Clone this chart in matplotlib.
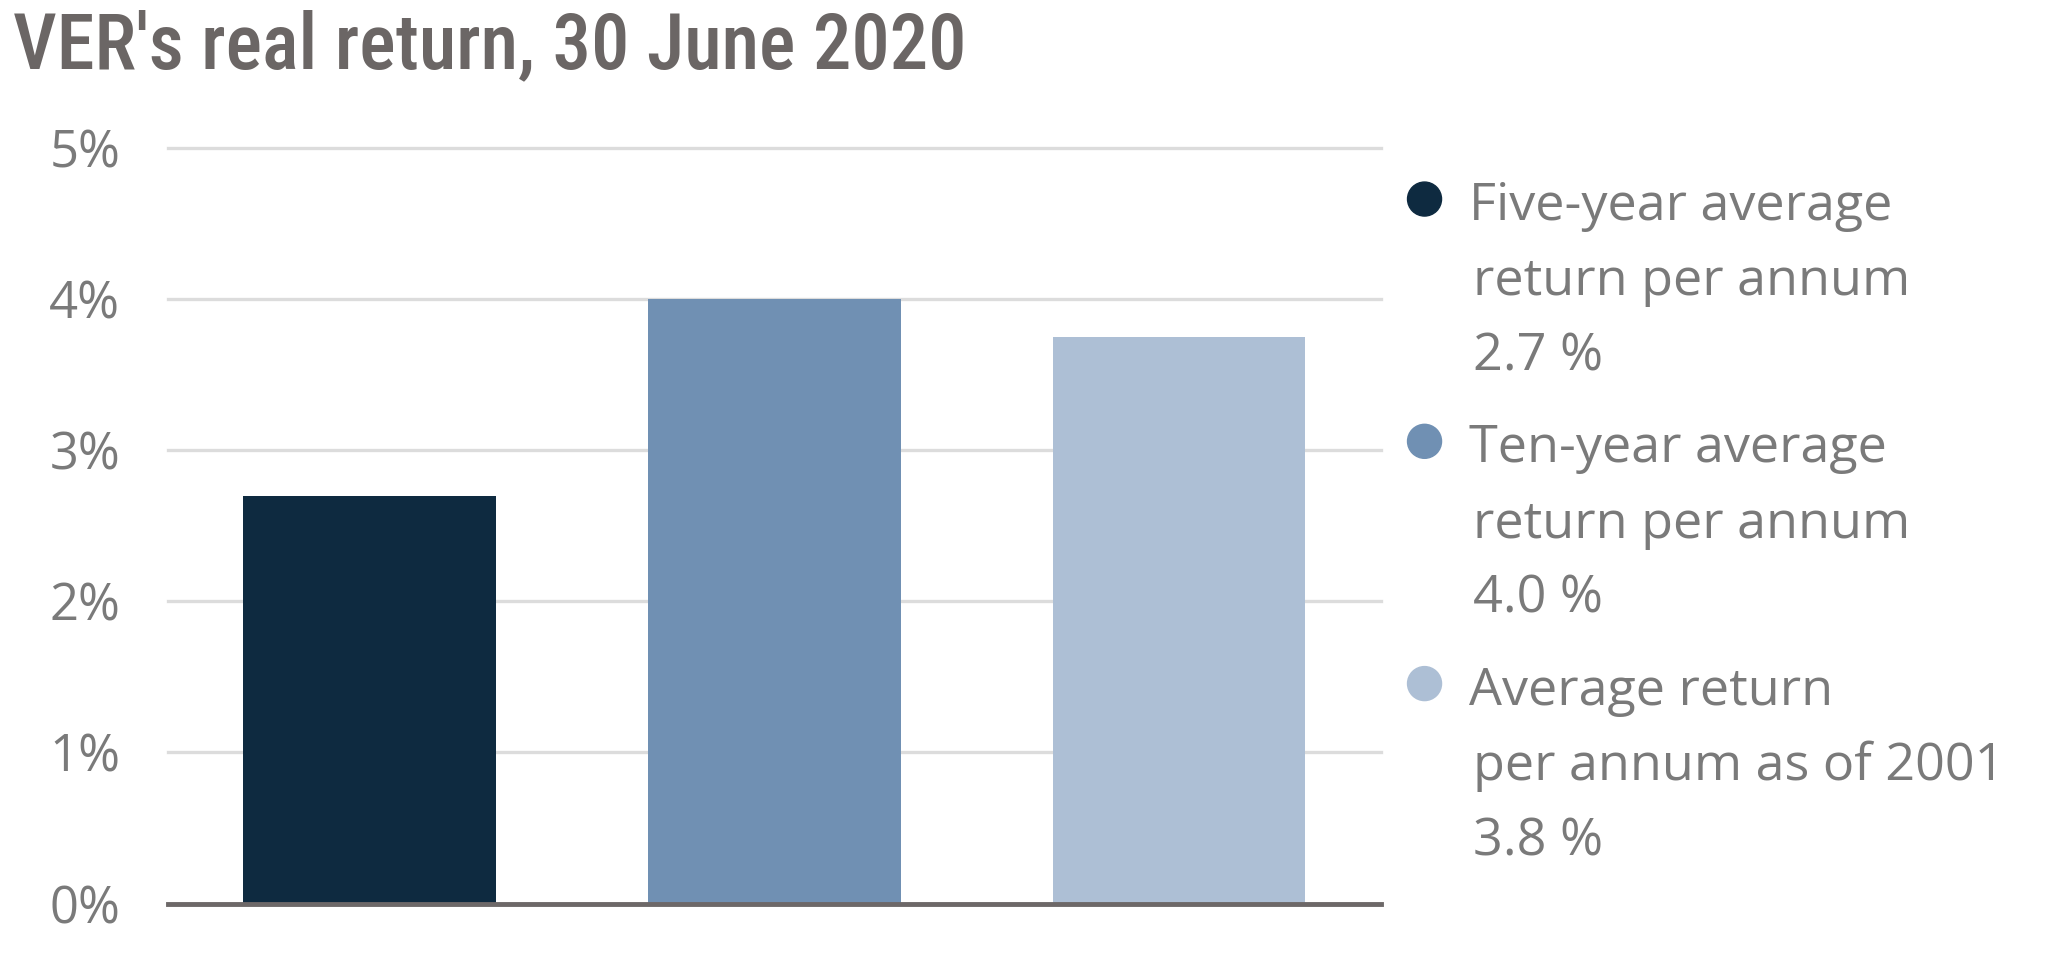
import matplotlib
matplotlib.use("Agg")
import matplotlib.pyplot as plt
import matplotlib.font_manager as fm

# ---- data ----
title = "VER's real return, 30 June 2020"
categories = ["Five-year average\nreturn per annum",
              "Ten-year average\nreturn per annum",
              "Average return\nper annum as of 2001"]
values = [2.7, 4.0, 3.75]
value_labels = ["2.7 %", "4.0 %", "3.8 %"]
yticks = [0, 1, 2, 3, 4, 5]
ytick_labels = ["0%", "1%", "2%", "3%", "4%", "5%"]
colors = ["#0e2a40", "#7090b3", "#adbfd5"]

W, H = 2053, 973
RW, RH = 1568, 743  # reference reading frame
fig = plt.figure(figsize=(W / 100, H / 100), dpi=100)

fam_names = {f.name for f in fm.fontManager.ttflist}

def pick_title_font():
    for fam in ["Roboto Condensed", "Liberation Sans Narrow", "Open Sans Condensed"]:
        if fam in fam_names:
            return fm.FontProperties(family=fam, weight="medium")
    return fm.FontProperties(family="Lato", weight="bold")

body_font = "Open Sans" if "Open Sans" in fam_names else "DejaVu Sans"

left, right = 128 / RW, 1055 / RW
bottom, top = 1 - 690 / RH, 1 - 113 / RH
ax = fig.add_axes([left, bottom, right - left, top - bottom])
x = list(range(len(values)))
ax.bar(x, values, width=0.625, color=colors, zorder=3)
ax.set_xlim(-0.5, 2.5)
ax.set_ylim(0, 5)
ax.set_yticks(yticks)
ax.set_yticklabels(ytick_labels, fontsize=36.5, color="#7a7a7a", family=body_font)
ax.set_xticks([])
ax.tick_params(axis="y", length=0, pad=34)
ax.yaxis.grid(True, color="#dcdcdc", linewidth=2.4)
for gl in ax.get_ygridlines():
    gl.set_clip_on(False)
ax.set_axisbelow(True)
for s in ["left", "right", "top"]:
    ax.spines[s].set_visible(False)
ax.spines["bottom"].set_color("#6d6868")
ax.spines["bottom"].set_linewidth(3.5)
ax.spines["bottom"].set_zorder(4)

# title, sized to match reference width
tfp = pick_title_font()
tfp.set_size(48)
t = fig.text(10 / RW, 1 - 52 / RH, title, fontproperties=tfp, color="#6b6665",
             ha="left", va="baseline")
fig.canvas.draw()
bb = t.get_window_extent()
target = (738 - 10) / RW * W
tfp.set_size(48 * target / bb.width)
t.set_fontproperties(tfp)

# legend
for i, (cat, col, vl) in enumerate(zip(categories, colors, value_labels)):
    lines = cat.split("\n") + [vl]
    cy = 1 - (152 + 185 * i) / RH
    fig.add_artist(matplotlib.patches.Ellipse((1088 / RW, cy), 34 / W, 34 / H,
                                              transform=fig.transFigure, color=col))
    for j, ln in enumerate(lines):
        by = 1 - (168 + 185 * i + 57.5 * j) / RH
        xx = 1122 / RW if j == 0 else 1125 / RW
        fig.text(xx, by, ln, fontsize=37.5, color="#7a7a7a", family=body_font,
                 ha="left", va="baseline")

fig.savefig("out.png", dpi=100)
